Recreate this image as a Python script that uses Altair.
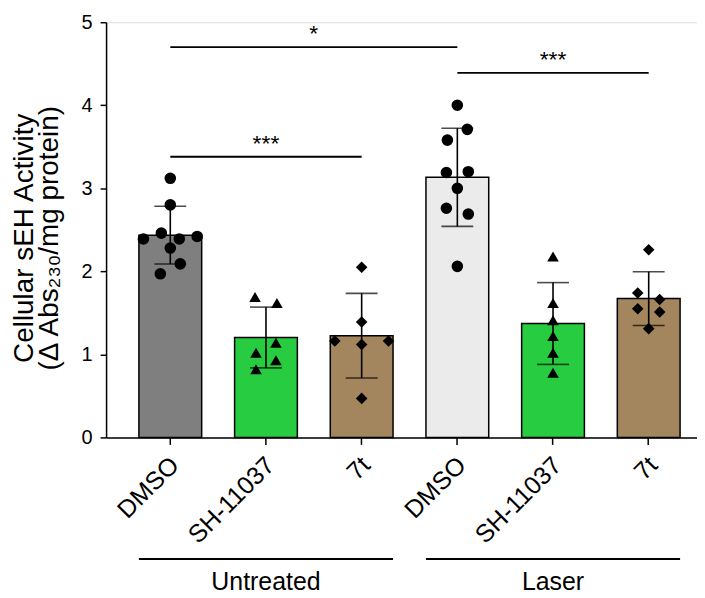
import altair as alt
import pandas as pd

# ---------------- data ----------------
treatments = ["Untreated", "Laser"]
compounds = ["DMSO", "SH-11037", "7t"]

untreated_dmso = [3.12, 2.80, 2.39, 2.46, 2.39, 2.42, 2.28, 2.09, 1.97]
untreated_sh = [1.69, 1.62, 1.14, 1.02, 0.93, 0.82]
untreated_7t = [2.05, 1.39, 1.16, 1.12, 1.16, 0.47]
laser_dmso = [4.00, 3.71, 3.58, 3.19, 3.20, 3.00, 2.76, 2.69, 2.06]
laser_sh = [2.18, 1.62, 1.41, 1.22, 1.02, 0.78]
laser_7t = [2.26, 1.74, 1.66, 1.55, 1.51, 1.31]

bar_colors = ["#7f7f7f", "#28cc41", "#a3855e", "#ebebeb", "#28cc41", "#a3855e"]
shapes = ["circle", "triangle-up", "diamond"]

sig_from = ["Untreated|DMSO", "Untreated|DMSO", "Laser|DMSO"]
sig_to = ["Laser|DMSO", "Untreated|7t", "Laser|7t"]
sig_y = [4.70, 3.38, 4.39]
sig_text = ["*", "***", "***"]

y_title = ["Cellular sEH Activity", "(\u0394 Abs\u2082\u2083\u2080/mg protein)"]

# ---------------- layout ----------------
W, H = 593.5, 417
PI, PO, ALIGN = 0.344, 0.26, 0.66
STEP = W / (6 - PI + 2 * PO)
BW = STEP * (1 - PI)
FONT = "Liberation Sans"

keys = [f"{t}|{c}" for t in treatments for c in compounds]
series = [untreated_dmso, untreated_sh, untreated_7t, laser_dmso, laser_sh, laser_7t]


def swarm(values, gap=0.085, collide=0.135, zig=10, pair=11, span=27):
    order = sorted(range(len(values)), key=lambda i: values[i])
    rows = []
    for i in order:
        if rows and values[i] - values[rows[-1][-1]] <= gap:
            rows[-1].append(i)
        else:
            rows.append([i])
    off = [0.0] * len(values)
    prev = None
    for r in rows:
        n = len(r)
        if n == 1:
            i = r[0]
            if prev is not None and values[i] - values[prev] < collide:
                if off[prev] == 0:
                    off[prev] = -zig
                off[i] = -off[prev]
            prev = i
        else:
            prev = None
            sp = 2 * pair if n == 2 else 2 * span / (n - 1)
            for k, i in enumerate(sorted(r)):
                off[i] = (k - (n - 1) / 2) * sp
    return off


rows = []
for k, vals in zip(keys, series):
    t, c = k.split("|")
    for v, o in zip(vals, swarm(vals)):
        rows.append({"key": k, "treatment": t, "compound": c, "value": v, "off": o})
pts = pd.DataFrame(rows)

sig = pd.DataFrame({
    "from": sig_from, "to": sig_to, "y": sig_y, "label": sig_text,
    "mid": [(keys.index(b) - keys.index(a)) / 2 * STEP for a, b in zip(sig_from, sig_to)],
})

grp = pd.DataFrame({
    "group": treatments,
    "gfrom": [f"{t}|{compounds[0]}" for t in treatments],
    "gto": [f"{t}|{compounds[-1]}" for t in treatments],
    "gmid": [f"{t}|{compounds[1]}" for t in treatments],
})

# ---------------- scales / axes ----------------
xscale = alt.Scale(domain=keys, paddingInner=PI, paddingOuter=PO, align=ALIGN)
xaxis = alt.Axis(title=None, labelAngle=-45, labelFontSize=25, labelAlign="right",
                 labelBaseline="top", labelExpr="split(datum.label, '|')[1]",
                 tickSize=7, tickWidth=1.5, domainWidth=1.5, labelPadding=8,
                 labelOffset=-4,
                 domainColor="black", tickColor="black", labelColor="black", labelFont=FONT)
yscale = alt.Scale(domain=[0, 5], nice=False)
yaxis = alt.Axis(title=y_title, values=[0, 1, 2, 3, 4, 5], tickSize=6, tickWidth=1.5,
                 domainWidth=1.5, labelFontSize=20, labelPadding=8, grid=False,
                 titleFontSize=28, titleFontWeight="normal", titleLineHeight=25,
                 titleX=-82, titleY=H / 2 + 8, titleBaseline="middle", titleAlign="center",
                 domainColor="black", tickColor="black", labelColor="black",
                 titleColor="black", labelFont=FONT, titleFont=FONT)
offscale = alt.Scale(domain=[-BW / 2, BW / 2], range=[0, BW])

base = alt.Chart(pts)

bars = base.mark_bar(stroke="black", strokeWidth=1.5).encode(
    x=alt.X("key:N", scale=xscale, axis=xaxis, sort=keys, bandPosition=0),
    x2=alt.X2("key:N", bandPosition=1),
    y=alt.Y("mean(value):Q", scale=yscale, axis=yaxis),
    color=alt.Color("key:N", scale=alt.Scale(domain=keys, range=bar_colors), legend=None),
)

err = base.mark_errorbar(extent="stdev", ticks=True, size=32, thickness=1.6, color="black").encode(
    x=alt.X("key:N", scale=xscale, axis=xaxis, sort=keys),
    y=alt.Y("value:Q", scale=yscale, axis=yaxis),
)

dots = base.mark_point(filled=True, size=135, color="black", opacity=1).encode(
    x=alt.X("key:N", scale=xscale, axis=xaxis, sort=keys),
    xOffset=alt.XOffset("off:Q", scale=offscale),
    y=alt.Y("value:Q", scale=yscale, axis=yaxis),
    shape=alt.Shape("compound:N", scale=alt.Scale(domain=compounds, range=shapes), legend=None),
)

sig_rule = alt.Chart(sig).mark_rule(color="black", strokeWidth=1.8).encode(
    x=alt.X("from:N", scale=xscale, axis=xaxis, sort=keys),
    x2="to:N",
    y=alt.Y("y:Q", scale=yscale, axis=yaxis),
)

sig_lab = alt.Chart(sig).mark_text(fontSize=23, font=FONT, color="black", dy=-6,
                                    baseline="alphabetic").encode(
    x=alt.X("from:N", scale=xscale, axis=xaxis, sort=keys),
    xOffset=alt.XOffset("mid:Q", scale=offscale),
    y=alt.Y("y:Q", scale=yscale, axis=yaxis),
    text="label:N",
)

grp_rule = alt.Chart(grp).mark_rule(color="black", strokeWidth=2).encode(
    x=alt.X("gfrom:N", scale=xscale, axis=xaxis, sort=keys, bandPosition=0),
    x2=alt.X2("gto:N", bandPosition=1),
    y=alt.value(H + 122),
)

grp_lab = alt.Chart(grp).mark_text(fontSize=25, font=FONT, color="black",
                                    baseline="alphabetic").encode(
    x=alt.X("gmid:N", scale=xscale, axis=xaxis, sort=keys),
    y=alt.value(H + 153),
    text="group:N",
)

chart = alt.layer(bars, err, dots, sig_rule, sig_lab, grp_rule, grp_lab).properties(
    width=W, height=H,
    autosize=alt.AutoSizeParams(type="none"),
    padding={"left": 98.5, "top": 13, "right": 0, "bottom": 160},
).configure_view(stroke=None).configure(font=FONT)

chart.save("out.html", embed_options={"renderer": "svg", "actions": False})
